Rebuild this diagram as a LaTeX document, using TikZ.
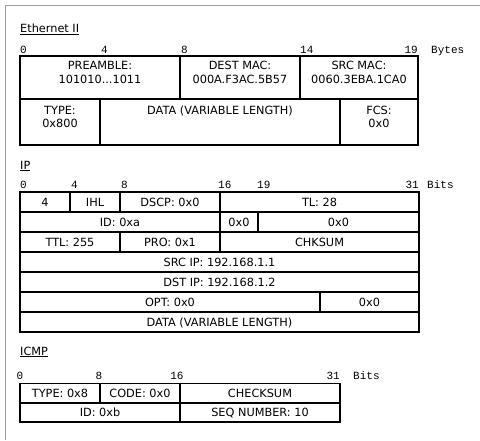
\documentclass[tikz,border=0pt]{standalone}
\usepackage{fontspec}
\setmainfont{DejaVu Sans}
\newfontfamily\monof{Liberation Mono}
\tikzset{
  fbox/.style={draw=black, line width=1.7pt},
  txt/.style={anchor=base, inner sep=0pt, font=\fontsize{11.3}{13}\selectfont},
  ttl/.style={anchor=base west, inner sep=0pt, font=\fontsize{11.3}{13}\selectfont},
  scl/.style={anchor=base west, inner sep=0pt, font=\monof\fontsize{11}{13}\selectfont},
  sclr/.style={anchor=base east, inner sep=0pt, font=\monof\fontsize{11}{13}\selectfont},
  sclc/.style={anchor=base, inner sep=0pt, font=\monof\fontsize{11}{13}\selectfont},
}
\begin{document}
\begin{tikzpicture}[x=1pt,y=-1pt]
\useasboundingbox (0,0) rectangle (480,440);
\draw[gray!75, line width=1pt] (5,440) -- (5,5) -- (480,5);

% ---------------- Ethernet II
\node[ttl] (tEth) at (20,32.5) {\underline{Ethernet II}};
\node[scl] (e0) at (20,53) {0};
\node[scl] (e4) at (101,53) {4};
\node[scl] (e8) at (181,53) {8};
\node[scl] (e14) at (300,53) {14};
\node[sclr] (e19) at (418,53) {19};
\node[scl] (eB) at (431,53) {Bytes};

\draw[fbox] (20,56) rectangle (180,99);
\draw[fbox] (180,56) rectangle (300,99);
\draw[fbox] (300,56) rectangle (418,99);
\draw[fbox] (20,99) rectangle (100,145);
\draw[fbox] (100,99) rectangle (340,145);
\draw[fbox] (340,99) rectangle (418,145);

\node[txt] (pa) at (100,69) {PREAMBLE:};
\node[txt] (pb) at (100,83) {101010...1011};
\node[txt] (da) at (240,69) {DEST MAC:};
\node[txt] (db) at (240,83) {000A.F3AC.5B57};
\node[txt] (sa) at (359,69) {SRC MAC:};
\node[txt] (sb) at (359,83) {0060.3EBA.1CA0};
\node[txt] (ta) at (60,114) {TYPE:};
\node[txt] (tb) at (60,127.5) {0x800};
\node[txt] (dd) at (220,114) {DATA (VARIABLE LENGTH)};
\node[txt] (fa) at (379,114) {FCS:};
\node[txt] (fb) at (379,127.5) {0x0};

% ---------------- IP
\node[ttl] (tIP) at (20,169) {\underline{IP}};
\node[scl] (i0) at (20,188.5) {0};
\node[scl] (i4) at (71,188.5) {4};
\node[scl] (i8) at (121,188.5) {8};
\node[scl] (i16) at (218,188.5) {16};
\node[scl] (i19) at (257,188.5) {19};
\node[sclr] (i31) at (419,188.5) {31};
\node[scl] (iB) at (427,188.5) {Bits};

\draw[fbox] (20,192) rectangle (70,212);
\draw[fbox] (70,192) rectangle (120,212);
\draw[fbox] (120,192) rectangle (220,212);
\draw[fbox] (220,192) rectangle (419,212);
\draw[fbox] (20,212) rectangle (220,232);
\draw[fbox] (220,212) rectangle (258,232);
\draw[fbox] (258,212) rectangle (419,232);
\draw[fbox] (20,232) rectangle (120,252);
\draw[fbox] (120,232) rectangle (220,252);
\draw[fbox] (220,232) rectangle (419,252);
\draw[fbox] (20,252) rectangle (419,272);
\draw[fbox] (20,272) rectangle (419,292);
\draw[fbox] (20,292) rectangle (320,312);
\draw[fbox] (320,292) rectangle (419,312);
\draw[fbox] (20,312) rectangle (419,332);

\node[txt] (v) at (45,206) {4};
\node[txt] (ihl) at (95,206) {IHL};
\node[txt] (dscp) at (170,206) {DSCP: 0x0};
\node[txt] (tl) at (319.5,206) {TL: 28};
\node[txt] (id) at (120,226) {ID: 0xa};
\node[txt] (fl) at (239,226) {0x0};
\node[txt] (fo) at (338.5,226) {0x0};
\node[txt] (ttl) at (70,246) {TTL: 255};
\node[txt] (pro) at (170,246) {PRO: 0x1};
\node[txt] (chk) at (319.5,246) {CHKSUM};
\node[txt] (src) at (219.5,266) {SRC IP: 192.168.1.1};
\node[txt] (dst) at (219.5,286) {DST IP: 192.168.1.2};
\node[txt] (opt) at (170,306) {OPT: 0x0};
\node[txt] (pad) at (369.5,306) {0x0};
\node[txt] (idata) at (219.5,326) {DATA (VARIABLE LENGTH)};

% ---------------- ICMP
\node[ttl] (tICMP) at (20,355) {\underline{ICMP}};
\node[sclc] (c0) at (20,379) {0};
\node[sclc] (c8) at (99,379) {8};
\node[sclc] (c16) at (177,379) {16};
\node[sclr] (c31) at (340,379) {31};
\node[scl] (cB) at (353,379) {Bits};

\draw[fbox] (20,383.5) rectangle (100,403);
\draw[fbox] (100,383.5) rectangle (180,403);
\draw[fbox] (180,383.5) rectangle (340,403);
\draw[fbox] (20,403) rectangle (180,422);
\draw[fbox] (180,403) rectangle (340,422);

\node[txt] (ct) at (60,397) {TYPE: 0x8};
\node[txt] (cc) at (140,397) {CODE: 0x0};
\node[txt] (cs) at (260,397) {CHECKSUM};
\node[txt] (cid) at (100,416.5) {ID: 0xb};
\node[txt] (cseq) at (260,416.5) {SEQ NUMBER: 10};
\end{tikzpicture}
\end{document}
